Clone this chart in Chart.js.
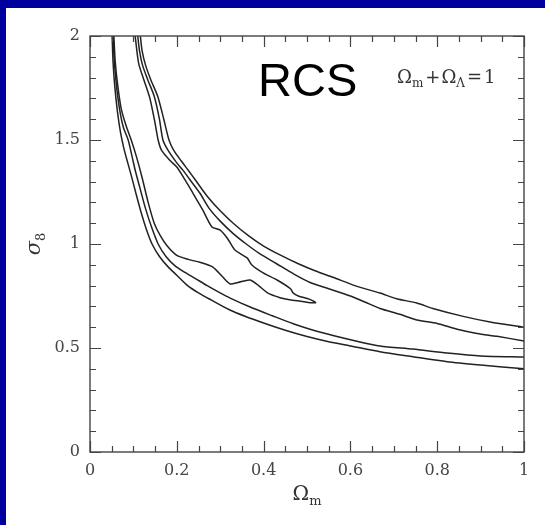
<!DOCTYPE html>
<html>
<head>
<meta charset="utf-8">
<script src="https://cdn.jsdelivr.net/npm/chart.js@4.4.1/dist/chart.umd.min.js"></script>
<style>
  html, body { margin:0; padding:0; width:545px; height:525px; overflow:hidden; background:#00009E; }
  #panel { position:absolute; left:6px; top:8px; width:539px; height:517px; background:#ffffff; }
  canvas { display:block; }
</style>
</head>
<body>
<div id="panel"><canvas id="c" width="539" height="517"></canvas></div>
<script>
// ---- data (x = Omega_m, y = sigma_8) ----
const xTickValues = [0, 0.2, 0.4, 0.6, 0.8, 1];
const yTickValues = [0, 0.5, 1, 1.5, 2];
const xTickMarks = [0,0.05,0.1,0.15,0.2,0.25,0.3,0.35,0.4,0.45,0.5,0.55,0.6,0.65,0.7,0.75,0.8,0.85,0.9,0.95,1];
const yTickMarks = [0,0.1,0.2,0.3,0.4,0.5,0.6,0.7,0.8,0.9,1,1.1,1.2,1.3,1.4,1.5,1.6,1.7,1.8,1.9,2];

// outer contour, lower-left branch
const outerLower = [[0.051,2.0],[0.053,1.88],[0.057,1.76],[0.063,1.64],[0.070,1.54],[0.078,1.46],[0.087,1.39],[0.095,1.33],[0.105,1.25],[0.118,1.15],[0.130,1.07],[0.143,1.0],[0.16,0.94],[0.18,0.89],[0.2,0.85],[0.225,0.80],[0.25,0.765],[0.28,0.73],[0.32,0.685],[0.36,0.65],[0.40,0.62],[0.45,0.585],[0.50,0.555],[0.55,0.53],[0.60,0.51],[0.668,0.482],[0.744,0.458],[0.823,0.434],[0.90,0.418],[1.0,0.40]];
// middle contour, lower-left branch
const middleLower = [[0.053,2.0],[0.056,1.88],[0.061,1.76],[0.068,1.65],[0.077,1.56],[0.088,1.5],[0.097,1.42],[0.104,1.356],[0.115,1.27],[0.128,1.17],[0.142,1.08],[0.157,1.0],[0.175,0.94],[0.196,0.895],[0.22,0.862],[0.242,0.835],[0.27,0.8],[0.3,0.765],[0.323,0.74],[0.369,0.697],[0.42,0.655],[0.47,0.615],[0.507,0.59],[0.56,0.56],[0.61,0.535],[0.668,0.51],[0.744,0.495],[0.823,0.476],[0.9,0.462],[1.0,0.457]];
// inner (closed) contour
const innerContour = [[0.055,2.0],[0.058,1.88],[0.064,1.76],[0.072,1.65],[0.083,1.57],[0.095,1.5],[0.107,1.42],[0.12,1.32],[0.134,1.2],[0.148,1.1],[0.162,1.04],[0.178,0.99],[0.2,0.945],[0.228,0.925],[0.253,0.912],[0.283,0.889],[0.306,0.841],[0.323,0.808],[0.341,0.815],[0.369,0.827],[0.392,0.794],[0.41,0.764],[0.438,0.742],[0.46,0.732],[0.49,0.724],[0.507,0.718],[0.52,0.718],[0.505,0.735],[0.48,0.75],[0.468,0.765],[0.462,0.785],[0.431,0.827],[0.399,0.861],[0.373,0.899],[0.362,0.933],[0.334,0.971],[0.316,1.029],[0.3,1.067],[0.281,1.082],[0.26,1.163],[0.237,1.245],[0.219,1.308],[0.2,1.37],[0.185,1.4],[0.165,1.45],[0.157,1.5],[0.15,1.58],[0.138,1.70],[0.124,1.79],[0.112,1.87],[0.104,2.0]];
// middle contour, upper-right branch
const middleUpper = [[0.11,2.0],[0.114,1.93],[0.121,1.86],[0.133,1.79],[0.148,1.71],[0.16,1.6],[0.168,1.5],[0.18,1.45],[0.2,1.39],[0.214,1.355],[0.23,1.31],[0.253,1.245],[0.275,1.17],[0.3,1.11],[0.33,1.05],[0.36,1.0],[0.39,0.955],[0.43,0.905],[0.47,0.855],[0.507,0.815],[0.55,0.785],[0.60,0.75],[0.64,0.715],[0.668,0.69],[0.714,0.662],[0.753,0.635],[0.8,0.618],[0.846,0.59],[0.892,0.57],[0.938,0.556],[1.0,0.534]];
// outer contour, upper-right branch
const outerUpper = [[0.116,2.0],[0.12,1.93],[0.128,1.86],[0.14,1.79],[0.156,1.71],[0.17,1.6],[0.182,1.5],[0.193,1.45],[0.21,1.40],[0.228,1.35],[0.242,1.31],[0.27,1.23],[0.3,1.16],[0.33,1.1],[0.365,1.04],[0.40,0.99],[0.44,0.945],[0.48,0.905],[0.52,0.87],[0.56,0.84],[0.61,0.80],[0.668,0.764],[0.707,0.737],[0.753,0.716],[0.79,0.69],[0.86,0.652],[0.922,0.625],[1.0,0.60]];

const contours = [outerLower, middleLower, innerContour, middleUpper, outerUpper];

const SERIF = '"DejaVu Serif", "Liberation Serif", serif';
const AXIS = '#444';

function drawParts(ctx, parts, x, y, align) {
  let total = 0;
  parts.forEach(p => { ctx.font = p.font; total += ctx.measureText(p.t).width + (p.gap || 0); });
  let cx = align === 'center' ? x - total / 2 : x;
  parts.forEach(p => {
    ctx.font = p.font;
    ctx.fillText(p.t, cx, y + (p.dy || 0));
    cx += ctx.measureText(p.t).width + (p.gap || 0);
  });
}

const framePlugin = {
  id: 'frame',
  afterDatasetsDraw(chart) {
    const { ctx, chartArea: a, scales: { x, y } } = chart;
    ctx.save();
    ctx.strokeStyle = AXIS;
    ctx.lineWidth = 1.4;
    ctx.strokeRect(a.left, a.top, a.right - a.left, a.bottom - a.top);
    ctx.lineWidth = 1.2;
    ctx.beginPath();
    xTickMarks.forEach(v => {
      const px = Math.round(x.getPixelForValue(v)) + 0.5;
      const L = xTickValues.includes(v) ? 11 : 6;
      ctx.moveTo(px, a.bottom); ctx.lineTo(px, a.bottom - L);
      ctx.moveTo(px, a.top); ctx.lineTo(px, a.top + L);
    });
    yTickMarks.forEach(v => {
      const py = Math.round(y.getPixelForValue(v)) + 0.5;
      const L = yTickValues.includes(v) ? 11 : 6;
      ctx.moveTo(a.left, py); ctx.lineTo(a.left + L, py);
      ctx.moveTo(a.right, py); ctx.lineTo(a.right - L, py);
    });
    ctx.stroke();
    ctx.restore();
  },
  afterDraw(chart) {
    const { ctx, chartArea: a } = chart;
    ctx.save();
    ctx.fillStyle = '#333';
    ctx.textBaseline = 'alphabetic';
    // x-axis title  Ω_m
    drawParts(ctx, [
      { t: 'Ω', font: '20px ' + SERIF },
      { t: 'm', font: '13px ' + SERIF, dy: 5 }
    ], (a.left + a.right) / 2, 492, 'center');
    // y-axis title  σ_8 (rotated)
    ctx.translate(34, (a.top + a.bottom) / 2);
    ctx.rotate(-Math.PI / 2);
    drawParts(ctx, [
      { t: 'σ', font: 'italic 21px ' + SERIF },
      { t: '8', font: '13px ' + SERIF, dy: 5 }
    ], 0, 0, 'center');
    ctx.restore();

    ctx.save();
    // RCS label
    ctx.fillStyle = '#000';
    ctx.font = '47px "Liberation Sans", Arial, sans-serif';
    ctx.textBaseline = 'alphabetic';
    ctx.fillText('RCS', 252, 88);
    // Ω_m + Ω_Λ = 1
    ctx.fillStyle = '#333';
    drawParts(ctx, [
      { t: 'Ω', font: '18px ' + SERIF },
      { t: 'm', font: '12px ' + SERIF, dy: 4, gap: 2 },
      { t: '+', font: '18px ' + SERIF, gap: 1 },
      { t: 'Ω', font: '18px ' + SERIF },
      { t: 'Λ', font: '12px ' + SERIF, dy: 4, gap: 2 },
      { t: '=', font: '18px ' + SERIF, gap: 2 },
      { t: '1', font: '18px ' + SERIF }
    ], 391, 75, 'left');
    ctx.restore();
  }
};

new Chart(document.getElementById('c'), {
  type: 'scatter',
  data: {
    datasets: contours.map(c => ({
      data: c.map(p => ({ x: p[0], y: p[1] })),
      showLine: true,
      borderColor: '#222',
      borderWidth: 1.5,
      pointRadius: 0,
      tension: 0.25,
      fill: false
    }))
  },
  options: {
    responsive: false,
    animation: false,
    events: [],
    layout: { padding: { top: 28, right: 21, left: 0, bottom: 0 } },
    plugins: { legend: { display: false }, tooltip: { enabled: false } },
    scales: {
      x: {
        type: 'linear', min: 0, max: 1,
        grid: { display: false, drawTicks: false }, border: { display: false },
        afterBuildTicks: s => { s.ticks = xTickValues.map(v => ({ value: v })); },
        afterFit: s => { s.height = 73; },
        ticks: {
          padding: 9, color: AXIS, maxRotation: 0, autoSkip: false,
          font: { family: SERIF, size: 16 },
          callback: v => String(Number(v.toFixed(2)))
        }
      },
      y: {
        type: 'linear', min: 0, max: 2,
        grid: { display: false, drawTicks: false }, border: { display: false },
        afterBuildTicks: s => { s.ticks = yTickValues.map(v => ({ value: v })); },
        afterFit: s => { s.width = 84; },
        ticks: {
          padding: 10, color: AXIS, autoSkip: false,
          font: { family: SERIF, size: 16 },
          callback: v => String(Number(v.toFixed(2)))
        }
      }
    }
  },
  plugins: [framePlugin]
});
</script>
</body>
</html>
